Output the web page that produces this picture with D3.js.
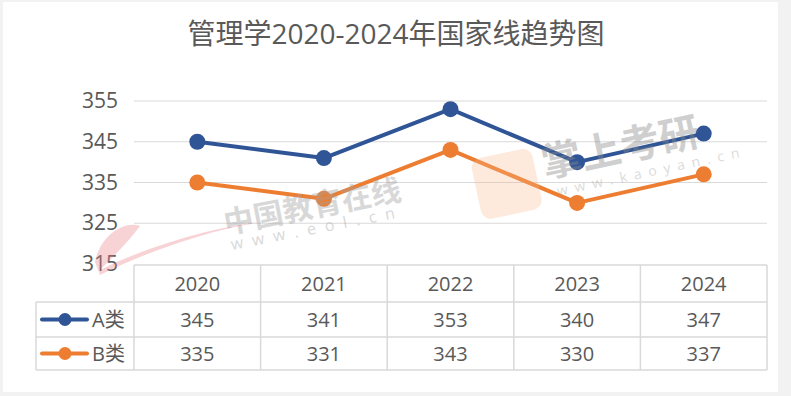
<!DOCTYPE html>
<html>
<head>
<meta charset="utf-8">
<script src="https://cdn.jsdelivr.net/npm/d3@7"></script>
<style>
  body { margin: 0; background: #f2f2f2; }
  svg { display: block; font-family: "Open Sans", "Noto Sans CJK SC", sans-serif; }
</style>
</head>
<body>
<div id="chart"></div>
<script>
const title = '管理学2020-2024年国家线趋势图';
const years = ['2020', '2021', '2022', '2023', '2024'];
const seriesNames = ['A类', 'B类'];
const seriesA = [345, 341, 353, 340, 347];
const seriesB = [335, 331, 343, 330, 337];
const yTicks = [315, 325, 335, 345, 355];
const colors = ['#2f5597', '#ed7d31'];

const width = 791, height = 396;
const plot = {left: 134, right: 767, top: 101, bottom: 264};
const rowH = [37, 35, 33];
const textColor = '#595959';
const gridColor = '#d9d9d9';

const svg = d3.select('#chart').append('svg')
  .attr('width', width)
  .attr('height', height);

svg.append('rect')
  .attr('x', 3).attr('y', 2)
  .attr('width', 775).attr('height', 390)
  .attr('fill', '#fff');

svg.append('text')
  .attr('x', 396).attr('y', 44)
  .attr('text-anchor', 'middle')
  .attr('font-size', 28)
  .attr('fill', textColor)
  .text(title);

const x = d3.scaleBand()
  .domain(years)
  .range([plot.left, plot.right]);

const y = d3.scaleLinear()
  .domain([315, 355])
  .range([plot.bottom, plot.top]);

// gridlines
svg.append('g')
  .selectAll('line')
  .data(yTicks.filter(d => d > 315))
  .join('line')
    .attr('x1', plot.left).attr('x2', plot.right)
    .attr('y1', d => y(d)).attr('y2', d => y(d))
    .attr('stroke', gridColor)
    .attr('stroke-width', 1);

// y axis labels
const yAxis = svg.append('g')
  .attr('transform', `translate(${plot.left - 16},0)`)
  .call(d3.axisLeft(y).tickValues(yTicks).tickSize(0).tickPadding(0));
yAxis.select('.domain').remove();
yAxis.selectAll('text')
  .attr('font-size', 21)
  .attr('font-family', '"Open Sans", sans-serif')
  .attr('fill', textColor);

// data table
const tableTop = plot.bottom + 1;
const rowY = [tableTop, tableTop + rowH[0], tableTop + rowH[0] + rowH[1], tableTop + rowH[0] + rowH[1] + rowH[2]];
const labelLeft = 36;
const table = svg.append('g')
  .attr('stroke', gridColor)
  .attr('stroke-width', 1.5)
  .attr('fill', 'none');

table.append('line')
  .attr('x1', plot.left).attr('x2', plot.right)
  .attr('y1', rowY[0]).attr('y2', rowY[0]);
[1, 2, 3].forEach(i => {
  table.append('line')
    .attr('x1', labelLeft).attr('x2', plot.right)
    .attr('y1', rowY[i]).attr('y2', rowY[i]);
});
table.append('line')
  .attr('x1', labelLeft).attr('x2', labelLeft)
  .attr('y1', rowY[1]).attr('y2', rowY[3]);
years.concat(['end']).forEach((yr, i) => {
  const xx = i < years.length ? x(yr) : plot.right;
  table.append('line')
    .attr('x1', xx).attr('x2', xx)
    .attr('y1', rowY[0]).attr('y2', rowY[3]);
});

svg.append('g')
  .selectAll('text')
  .data(years)
  .join('text')
    .attr('x', d => x(d) + x.bandwidth() / 2)
    .attr('y', (rowY[0] + rowY[1]) / 2)
    .attr('dy', '0.36em')
    .attr('text-anchor', 'middle')
    .attr('font-size', 20)
    .attr('fill', textColor)
    .text(d => d);

[seriesA, seriesB].forEach((vals, si) => {
  const cy = (rowY[si + 1] + rowY[si + 2]) / 2;
  const g = svg.append('g');
  g.selectAll('text')
    .data(vals)
    .join('text')
      .attr('x', (d, i) => x(years[i]) + x.bandwidth() / 2)
      .attr('y', cy)
      .attr('dy', '0.36em')
      .attr('text-anchor', 'middle')
      .attr('font-size', 20)
      .attr('fill', textColor)
      .text(d => d);
  // legend key
  g.append('line')
    .attr('x1', 42).attr('x2', 87)
    .attr('y1', cy).attr('y2', cy)
    .attr('stroke', colors[si])
    .attr('stroke-width', 4)
    .attr('stroke-linecap', 'round');
  g.append('circle')
    .attr('cx', 65).attr('cy', cy).attr('r', 6.5)
    .attr('fill', colors[si]);
  g.append('text')
    .attr('x', 92).attr('y', cy)
    .attr('dy', '0.36em')
    .attr('font-size', 20)
    .attr('fill', textColor)
    .text(seriesNames[si]);
});

// lines
const line = d3.line()
  .x((d, i) => x(years[i]) + x.bandwidth() / 2)
  .y(d => y(d));

[seriesA, seriesB].forEach((vals, si) => {
  svg.append('path')
    .datum(vals)
    .attr('fill', 'none')
    .attr('stroke', colors[si])
    .attr('stroke-width', 4)
    .attr('stroke-linejoin', 'round')
    .attr('d', line);
  svg.append('g')
    .selectAll('circle')
    .data(vals)
    .join('circle')
      .attr('cx', (d, i) => x(years[i]) + x.bandwidth() / 2)
      .attr('cy', d => y(d))
      .attr('r', 8)
      .attr('fill', colors[si]);
});

// watermarks
const wm = svg.append('g').attr('pointer-events', 'none');
wm.append('text')
  .attr('transform', 'translate(226,234) rotate(-11)')
  .attr('font-size', 30)
  .attr('font-weight', 'bold')
  .attr('fill', '#a0a0a0')
  .attr('opacity', 0.4)
  .text('中国教育在线');
wm.append('text')
  .attr('transform', 'translate(232,250) rotate(-11)')
  .attr('font-size', 16)
  .attr('letter-spacing', 9)
  .attr('fill', '#a0a0a0')
  .attr('opacity', 0.4)
  .text('www.eol.cn');
wm.append('text')
  .attr('transform', 'translate(545,178) rotate(-12)')
  .attr('font-size', 40)
  .attr('font-weight', 'bold')
  .attr('fill', '#8a8a8a')
  .attr('opacity', 0.4)
  .text('掌上考研');
wm.append('text')
  .attr('transform', 'translate(558,196) rotate(-12)')
  .attr('font-size', 14)
  .attr('letter-spacing', 7)
  .attr('fill', '#9a9a9a')
  .attr('opacity', 0.35)
  .text('www.kaoyan.cn');
wm.append('rect')
  .attr('transform', 'translate(470,160) rotate(-12)')
  .attr('width', 62).attr('height', 62).attr('rx', 10)
  .attr('fill', '#f7b98a')
  .attr('opacity', 0.3);
wm.append('path')
  .attr('d', 'M95,262 C100,235 125,220 140,226 C130,240 115,255 100,270 C160,240 230,225 260,222 C200,232 140,255 100,275 Z')
  .attr('fill', '#e8808a')
  .attr('opacity', 0.35);
</script>
</body>
</html>
